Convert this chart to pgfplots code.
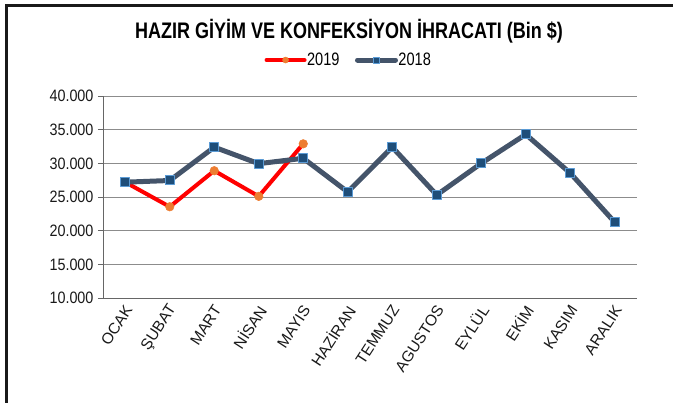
\documentclass[border=0pt]{standalone}
\usepackage{fontspec}
\setmainfont{Liberation Sans}
\newfontfamily\titlefont[FakeStretch=0.8]{Liberation Sans}
\newfontfamily\legfont[FakeStretch=0.81]{Liberation Sans}
\newfontfamily\yfont[FakeStretch=0.87]{Liberation Sans}
\usepackage{pgfplots}
\pgfplotsset{compat=1.18}
\definecolor{red19}{HTML}{FF0000}
\definecolor{org19}{HTML}{ED7D31}
\definecolor{sl18}{HTML}{44546A}
\definecolor{bl18}{HTML}{1F4E79}
\definecolor{lb18}{HTML}{5B9BD5}
\begin{document}
\begin{tikzpicture}
\useasboundingbox (-103pt,-105pt) rectangle (570pt,298pt);
\draw[line width=3.5pt, black!90] (-96.5pt,-106pt) -- (-96.5pt,292.5pt) -- (571pt,292.5pt);
\begin{axis}[
  scale only axis,
  width=534pt, height=202pt,
  at={(0pt,0pt)}, anchor=south west,
  xmin=-0.5, xmax=11.5,
  ymin=10000, ymax=40000,
  ytick={10000,15000,...,40000},
  scaled y ticks=false,
  xtick={0,...,11},
  xticklabels={OCAK,ŞUBAT,MART,NİSAN,MAYIS,HAZİRAN,TEMMUZ,AGUSTOS,EYLÜL,EKİM,KASIM,ARALIK},
  xtick style={draw=none},
  minor xtick={-0.5,0.5,...,11.5},
  minor tick length=5pt,
  minor tick style={black!60, line width=0.8pt},
  ytick style={black!60, line width=0.8pt},
  major tick length=5pt,
  tick align=outside,
  axis x line*=bottom,
  axis y line*=left,
  axis line style={black!60, line width=0.8pt},
  ymajorgrids,
  grid style={black!45, line width=0.8pt},
  /pgf/number format/.cd, 1000 sep={.}, fixed, assume math mode=true,
  /pgfplots/.cd,
  yticklabel style={font=\yfont\fontsize{16.5}{18}\selectfont, black!90, xshift=-1pt},
  xticklabel style={font=\fontsize{15.5}{17}\selectfont, rotate=57, anchor=east, black!90, yshift=-5pt, xshift=2pt},
  legend style={at={(0.4588,1.178)}, anchor=center, draw=none, legend columns=2,
    font=\legfont\fontsize{18}{20}\selectfont,
    nodes={inner sep=0.5pt},
    /tikz/every even column/.append style={column sep=15pt}},
  legend image code/.code={\draw[#1, mark repeat=2, mark phase=2, mark size=3pt] plot coordinates {(0pt,0pt) (19pt,0pt) (38pt,0pt)};},
]
\addplot[red19, line width=4pt, line cap=round, line join=round, mark=*, mark size=4.3pt, mark options={fill=org19, draw=org19, line width=0.5pt}] coordinates {
(0,27200) (1,23550) (2,28900) (3,25100) (4,32900)};
\addlegendentry{2019}
\addplot[sl18, line width=5pt, line cap=round, line join=round, mark=square*, mark size=4.5pt, mark options={fill=bl18, draw=lb18, line width=1pt}] coordinates {
(0,27200) (1,27450) (2,32400) (3,29950) (4,30750) (5,25750) (6,32400) (7,25300) (8,30000) (9,34300) (10,28550) (11,21250)};
\addlegendentry{2018}
\end{axis}
\node[font=\titlefont\bfseries\fontsize{22.5}{24}\selectfont] at (246pt,267pt) {HAZIR GİYİM VE KONFEKSİYON İHRACATI (Bin \$)};
\end{tikzpicture}
\end{document}
